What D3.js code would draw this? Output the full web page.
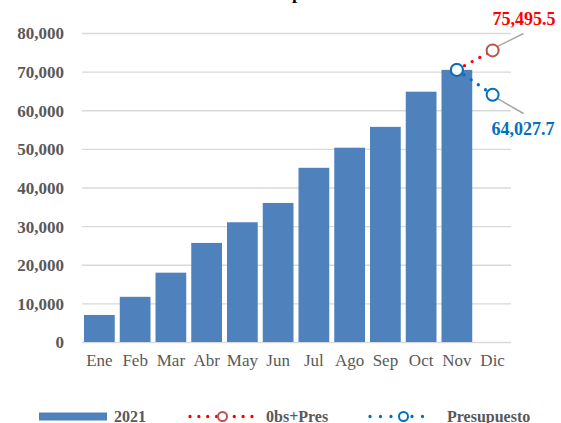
<!DOCTYPE html>
<html><head><meta charset="utf-8">
<script src="https://cdn.jsdelivr.net/npm/d3@7"></script>
<style>body{margin:0;background:#fff}svg{display:block}</style>
</head><body>
<script>
const months = ["Ene","Feb","Mar","Abr","May","Jun","Jul","Ago","Sep","Oct","Nov","Dic"];
const values2021 = [7000,11700,17950,25650,31000,36000,45100,50300,55700,64800,70450];
const obsPres = [{m:"Nov", v:70450},{m:"Dic", v:75495.5}];
const presupuesto = [{m:"Nov", v:70450},{m:"Dic", v:64027.7}];
const yTicks = [0,10000,20000,30000,40000,50000,60000,70000,80000];
const legendLabels = ["2021","0bs+Pres","Presupuesto"];

const W=561,H=423;
const svg=d3.select("body").append("svg").attr("width",W).attr("height",H);
const serif="'Liberation Serif','Times New Roman',serif";
const x=d3.scaleBand().domain(months).range([81.5,510.5]).paddingInner(0.14).paddingOuter(0.07);
const y=d3.scaleLinear().domain([0,80000]).range([342,33]);
const cx=m=>x(m)+x.bandwidth()/2;

// title fragment (cut off at top edge, as in the reference)
svg.append("text").attr("x",297).attr("y",-1).attr("text-anchor","middle")
  .attr("font-family",serif).attr("font-weight","bold").attr("font-size",18).attr("fill","#000").text("p");

// grid
const ga=svg.append("g").attr("transform","translate(82,0)")
  .call(d3.axisLeft(y).tickValues(yTicks).tickSize(-429).tickFormat(""));
ga.select(".domain").remove();
ga.selectAll(".tick line").attr("stroke","#D9D9D9").attr("stroke-width",1.3);

// y labels
const yl=svg.append("g").attr("transform","translate(64,0)")
  .call(d3.axisLeft(y).tickValues(yTicks).tickSize(0).tickPadding(0).tickFormat(d3.format(",")));
yl.select(".domain").remove();
yl.selectAll("text").attr("font-family",serif).attr("font-weight","bold").attr("font-size",17)
  .attr("fill","#595959").attr("dy","0.35em");

// bars
svg.append("g").selectAll("rect").data(values2021).join("rect")
  .attr("x",(d,i)=>x(months[i])).attr("width",x.bandwidth())
  .attr("y",d=>y(d)).attr("height",d=>y(0)-y(d)).attr("fill","#4F81BD");

// x labels
const xa=svg.append("g").attr("transform","translate(0,346)")
  .call(d3.axisBottom(x).tickSize(0).tickPadding(8));
xa.select(".domain").remove();
xa.selectAll("text").attr("font-family",serif).attr("font-size",17).attr("fill","#595959");

const line=d3.line().x(d=>cx(d.m)).y(d=>y(d.v));
function series(data,lineCol){
  svg.append("path").datum(data).attr("d",line).attr("fill","none")
    .attr("stroke",lineCol).attr("stroke-width",3.3).attr("stroke-linecap","round")
    .attr("stroke-dasharray","0 8.7");
}
series(obsPres,"#FF0000");
series(presupuesto,"#0070C0");

// leader lines
svg.append("line").attr("x1",cx("Dic")+5).attr("y1",y(75495.5)-4).attr("x2",523.5).attr("y2",33.5)
  .attr("stroke","#A6A6A6").attr("stroke-width",1.5);
svg.append("line").attr("x1",cx("Dic")+5).attr("y1",y(64027.7)+4).attr("x2",523.5).attr("y2",113.5)
  .attr("stroke","#A6A6A6").attr("stroke-width",1.5);

// markers
function marker(m,v,col){
  svg.append("circle").attr("cx",cx(m)).attr("cy",y(v)).attr("r",6)
    .attr("fill","#fff").attr("stroke",col).attr("stroke-width",2);
}
marker("Dic",75495.5,"#C0504D");
marker("Nov",70450,"#C0504D");
marker("Dic",64027.7,"#0070C0");
marker("Nov",70450,"#0070C0");

// data labels
svg.append("text").attr("x",524).attr("y",25).attr("text-anchor","middle")
  .attr("font-family",serif).attr("font-weight","bold").attr("font-size",18).attr("fill","#FF0000")
  .text(d3.format(",.1f")(75495.5));
svg.append("text").attr("x",523).attr("y",135).attr("text-anchor","middle")
  .attr("font-family",serif).attr("font-weight","bold").attr("font-size",18).attr("fill","#0070C0")
  .text(d3.format(",.1f")(64027.7));

// legend
const lg=svg.append("g");
const ly=416.5;
lg.append("rect").attr("x",39).attr("y",ly-4).attr("width",68).attr("height",8).attr("fill","#4F81BD");
lg.append("line").attr("x1",190).attr("x2",252).attr("y1",ly).attr("y2",ly)
  .attr("stroke","#FF0000").attr("stroke-width",3.3).attr("stroke-linecap","round").attr("stroke-dasharray","0 8.85");
lg.append("circle").attr("cx",222.5).attr("cy",ly).attr("r",4.5).attr("fill","#fff").attr("stroke","#C0504D").attr("stroke-width",2);
lg.append("line").attr("x1",370).attr("x2",433).attr("y1",ly).attr("y2",ly)
  .attr("stroke","#0070C0").attr("stroke-width",3.3).attr("stroke-linecap","round").attr("stroke-dasharray","0 10.5");
lg.append("circle").attr("cx",403.5).attr("cy",ly).attr("r",4.5).attr("fill","#fff").attr("stroke","#0070C0").attr("stroke-width",2);
const lx=[114,266,447];
lg.selectAll("text.l").data(legendLabels).join("text").attr("class","l")
  .attr("x",(d,i)=>lx[i]).attr("y",421.5).attr("font-family",serif).attr("font-weight","bold")
  .attr("font-size",16).attr("fill","#595959").text(d=>d);
</script>
</body></html>
